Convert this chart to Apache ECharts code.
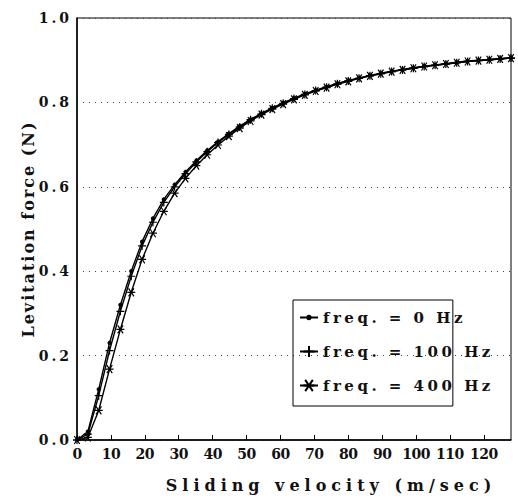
<!DOCTYPE html>
<html>
<head>
<meta charset="utf-8">
<script src="https://cdn.jsdelivr.net/npm/echarts@6/dist/echarts.min.js"></script>
<style>
html, body { margin: 0; padding: 0; background: #fff; }
#main { width: 518px; height: 499px; }
</style>
</head>
<body>
<div id="main"></div>
<script>
var xName = 'Sliding velocity (m/sec)';
var yName = 'Levitation force (N)';
var seriesNames = ['freq. = 0 Hz', 'freq. = 100 Hz', 'freq. = 400 Hz'];

var velocity = [0, 3.2, 6.4, 9.6, 12.8, 16, 19.2, 22.4, 25.6, 28.8, 32, 35.2, 38.4, 41.6, 44.8,
    48, 51.2, 54.4, 57.6, 60.8, 64, 67.2, 70.4, 73.6, 76.8, 80, 83.2, 86.4, 89.6, 92.8,
    96, 99.2, 102.4, 105.6, 108.8, 112, 115.2, 118.4, 121.6, 124.8, 128];

var force0 = [0, 0.02, 0.12, 0.23, 0.32, 0.40, 0.47, 0.525, 0.57, 0.605, 0.635, 0.662, 0.686, 0.707, 0.726,
    0.744, 0.760, 0.774, 0.787, 0.799, 0.810, 0.820, 0.829, 0.837, 0.845, 0.852, 0.858, 0.864, 0.869, 0.874,
    0.878, 0.882, 0.886, 0.889, 0.892, 0.895, 0.898, 0.900, 0.902, 0.904, 0.906];
var force100 = [0, 0.014, 0.105, 0.212, 0.305, 0.388, 0.46, 0.516, 0.563, 0.600, 0.631, 0.659, 0.683, 0.705, 0.724,
    0.742, 0.759, 0.773, 0.786, 0.798, 0.809, 0.819, 0.828, 0.836, 0.844, 0.851, 0.857, 0.863, 0.868, 0.873,
    0.877, 0.881, 0.885, 0.888, 0.891, 0.894, 0.897, 0.899, 0.901, 0.903, 0.905];
var force400 = [0, 0.006, 0.07, 0.168, 0.262, 0.35, 0.428, 0.49, 0.542, 0.585, 0.620, 0.650, 0.676, 0.699, 0.720,
    0.739, 0.756, 0.771, 0.784, 0.796, 0.807, 0.818, 0.827, 0.835, 0.843, 0.850, 0.857, 0.863, 0.868, 0.873,
    0.877, 0.881, 0.885, 0.888, 0.891, 0.894, 0.897, 0.899, 0.901, 0.903, 0.905];

var fontFam = '"DejaVu Serif", serif';
// small dot inside a 10x10 box so the legend does not blow it up
var dotPath = 'path://M0,0L0.01,0M10,10L10.01,10M3.5,5A1.5,1.5,0,1,1,6.5,5A1.5,1.5,0,1,1,3.5,5Z';
var plusPath = 'path://M0,5L10,5M5,0L5,10';
var starPath = 'path://M0,5L10,5M1.6,1.6L8.4,8.4M1.6,8.4L8.4,1.6';

function pairs(ys) {
    var out = [];
    for (var i = 0; i < velocity.length; i++) out.push([velocity[i], ys[i]]);
    return out;
}

function makeSeries(name, ys, symbol, size) {
    return {
        name: name,
        type: 'line',
        data: pairs(ys),
        symbol: symbol,
        symbolSize: size,
        showSymbol: true,
        lineStyle: { color: '#000', width: 1.4 },
        itemStyle: { color: '#000', borderColor: '#000', borderWidth: 1.2 },
        emphasis: { disabled: true }
    };
}

var option = {
    animation: false,
    grid: {
        left: 77, right: 7, top: 18, bottom: 59,
        show: true, borderColor: '#000', borderWidth: 1
    },
    legend: {
        orient: 'vertical',
        left: 293, top: 300,
        padding: [10, 8, 13, 6],
        itemGap: 19,
        itemWidth: 18,
        itemHeight: 14,
        borderColor: '#000',
        borderWidth: 1,
        data: seriesNames,
        textStyle: { fontFamily: fontFam, fontWeight: 'bold', fontSize: 15, color: '#111' }
    },
    xAxis: {
        type: 'value',
        min: 0, max: 128, interval: 10,
        name: xName,
        nameLocation: 'middle',
        nameGap: 37,
        nameTextStyle: { fontFamily: fontFam, fontWeight: 'bold', fontSize: 16, color: '#111', padding: [0, 0, 0, 74] },
        axisLine: { lineStyle: { color: '#000', width: 1.5 } },
        axisTick: { inside: true, length: 5, lineStyle: { color: '#000' } },
        axisLabel: { margin: 7, fontFamily: fontFam, fontWeight: 'bold', fontSize: 14, color: '#111' },
        splitLine: { show: false }
    },
    yAxis: {
        type: 'value',
        min: 0, max: 1, interval: 0.2,
        name: yName,
        nameLocation: 'middle',
        nameGap: 40,
        nameTextStyle: { fontFamily: fontFam, fontWeight: 'bold', fontSize: 16, color: '#111' },
        axisLine: { show: true, lineStyle: { color: '#000', width: 1.5 } },
        axisTick: { show: false },
        axisLabel: {
            margin: 5, fontFamily: fontFam, fontWeight: 'bold', fontSize: 14, color: '#111',
            formatter: function (v) { return v.toFixed(1); }
        },
        splitLine: { lineStyle: { color: '#444', type: [1, 5], width: 1 } }
    },
    series: [
        makeSeries(seriesNames[0], force0, dotPath, 10),
        makeSeries(seriesNames[1], force100, plusPath, 8),
        makeSeries(seriesNames[2], force400, starPath, 8)
    ]
};

var myChart = echarts.init(document.getElementById('main'), null, { renderer: 'svg' });
myChart.setOption(option);

// typewriter-like spacing of the original lettering
function spaceText() {
    var nodes = document.querySelectorAll('#main svg text');
    for (var i = 0; i < nodes.length; i++) {
        var s = nodes[i].textContent;
        var ls = '-0.5px';
        if (s === xName) ls = '5px';
        else if (s === yName) ls = '2px';
        else if (s.indexOf('freq') === 0) ls = '3.5px';
        else if (s.indexOf('.') > 0) ls = '3px';
        nodes[i].style.letterSpacing = ls;
    }
}
myChart.on('finished', spaceText);
setTimeout(spaceText, 50);
</script>
</body>
</html>
